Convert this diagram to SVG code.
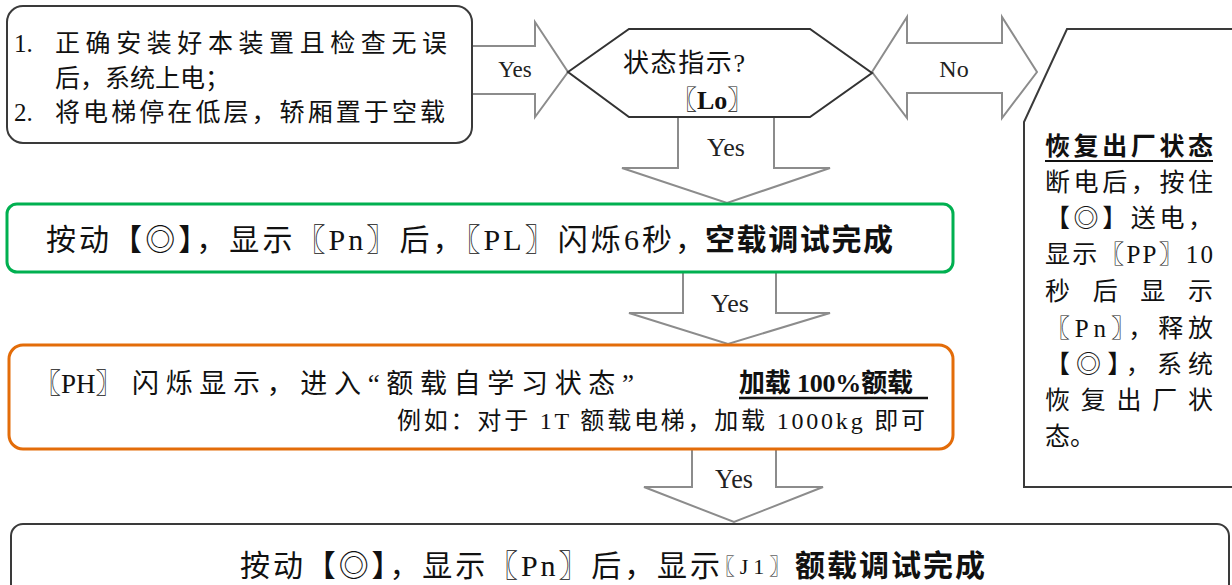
<svg xmlns="http://www.w3.org/2000/svg" width="1232" height="585" viewBox="0 0 1232 585">
<style>
.t{font-family:"Liberation Serif","Noto Sans CJK SC",serif;fill:#111}
.b{font-weight:bold}
.arrow{fill:#fff;stroke:#8c8c8c;stroke-width:2;stroke-linejoin:miter}
.lbl{font-family:"Liberation Serif","Noto Sans CJK SC",serif;fill:#222;text-anchor:middle}
.box{fill:#fff;stroke:#3a3a3a;stroke-width:2}
</style>
<rect width="1232" height="585" fill="#fff"/>
<g id="connectors">
<path class="arrow" d="M473,46 H535 V22 L568,72 L535,117 V94 H473"/>
<text class="lbl" x="515" y="77" font-size="23">Yes</text>
<path class="arrow" d="M678,117 V168 H622 L727,203 L830,168 H774 V117"/>
<text class="lbl" x="726" y="156" font-size="26">Yes</text>
<path class="arrow" d="M683,272 V313 H629 L728,344 L830,313 H776 V272"/>
<text class="lbl" x="730" y="312" font-size="26">Yes</text>
<path class="arrow" d="M692,449 V487 H644 L734,522 L823,487 H776 V449"/>
<text class="lbl" x="734" y="488" font-size="27" textLength="38" lengthAdjust="spacingAndGlyphs">Yes</text>
<path class="arrow" d="M872,72 L907,17 V43 H1002 V17 L1037,72 L1002,118 V93 H907 V118 Z"/>
<text class="lbl" x="954" y="77" font-size="24">No</text>
</g>
<g id="start">
<rect class="box" x="7" y="6" width="465" height="137" rx="16"/>
<text class="t" font-size="25" x="14" y="52">1.</text>
<text class="t" font-size="25" x="55" y="52" textLength="392" lengthAdjust="spacing">正确安装好本装置且检查无误</text>
<text class="t" font-size="25" x="55" y="87">后，系统上电；</text>
<text class="t" font-size="25" x="14" y="121">2.</text>
<text class="t" font-size="25" x="55" y="121" textLength="390" lengthAdjust="spacing">将电梯停在低层，轿厢置于空载</text>
</g>
<g id="decision">
<path d="M568,72 L629,29 H810 L872,73 L810,117 H629 Z" fill="#fff" stroke="#333" stroke-width="2"/>
<text class="t" font-size="26" x="623" y="72" textLength="122" lengthAdjust="spacing">状态指示?</text>
<text class="t" font-size="26" x="671" y="109">〖<tspan class="b">Lo</tspan>〗</text>
</g>
<g id="reset">
<path d="M1240,29 H1067 L1024,122 V487 H1240" fill="#fff" stroke="#3a3a3a" stroke-width="2"/>
<text class="t b" font-size="25" x="1045" y="155" textLength="168" lengthAdjust="spacing">恢复出厂状态</text>
<line x1="1045" y1="161" x2="1213" y2="161" stroke="#111" stroke-width="2"/>
<text class="t" font-size="25" x="1045" y="191" textLength="168" lengthAdjust="spacing">断电后，按住</text>
<text class="t" font-size="25" x="1045" y="227" textLength="168" lengthAdjust="spacing">【◎】送电，</text>
<text class="t" font-size="25" x="1045" y="263" textLength="168" lengthAdjust="spacing">显示〖PP〗10</text>
<text class="t" font-size="25" x="1045" y="300" textLength="168" lengthAdjust="spacing">秒后显示</text>
<text class="t" font-size="25" x="1045" y="337" textLength="168" lengthAdjust="spacing">〖Pn〗，释放</text>
<text class="t" font-size="25" x="1045" y="373" textLength="168" lengthAdjust="spacing">【◎】，系统</text>
<text class="t" font-size="25" x="1045" y="409" textLength="168" lengthAdjust="spacing">恢复出厂状</text>
<text class="t" font-size="25" x="1045" y="445">态。</text>
</g>
<g id="noload">
<rect x="7" y="204" width="946" height="68" rx="10" fill="#fff" stroke="#00b050" stroke-width="3"/>
<text class="t" font-size="30" x="46" y="250" textLength="659" lengthAdjust="spacing">按动【◎】，显示〖Pn〗后，〖PL〗闪烁6秒，</text>
<text class="t b" font-size="30" x="705" y="250" textLength="188" lengthAdjust="spacing">空载调试完成</text>
</g>
<g id="ratedlearn">
<rect x="9" y="345" width="944" height="104" rx="14" fill="#fff" stroke="#e36c09" stroke-width="3"/>
<text class="t" font-size="27" x="34" y="393">〖PH〗</text>
<text class="t" font-size="27" x="132" y="393" textLength="502" lengthAdjust="spacing">闪烁显示，进入“额载自学习状态”</text>
<text class="t b" font-size="26" x="739" y="392" textLength="174" lengthAdjust="spacing">加载 100%额载</text>
<line x1="739" y1="398" x2="928" y2="398" stroke="#111" stroke-width="2.5"/>
<text class="t" font-size="24" x="397" y="429" textLength="528" lengthAdjust="spacing">例如：对于 1T 额载电梯，加载 1000kg 即可</text>
</g>
<g id="done">
<rect class="box" x="11" y="524" width="1218" height="90" rx="12"/>
<text class="t" font-size="30" x="240" y="576" textLength="480" lengthAdjust="spacing">按动【◎】，显示〖Pn〗后，显示</text>
<text class="t" font-size="22" x="713" y="574" textLength="78" lengthAdjust="spacing">〖J1〗</text>
<text class="t b" font-size="30" x="795" y="576" textLength="190" lengthAdjust="spacing">额载调试完成</text>
</g>
</svg>
